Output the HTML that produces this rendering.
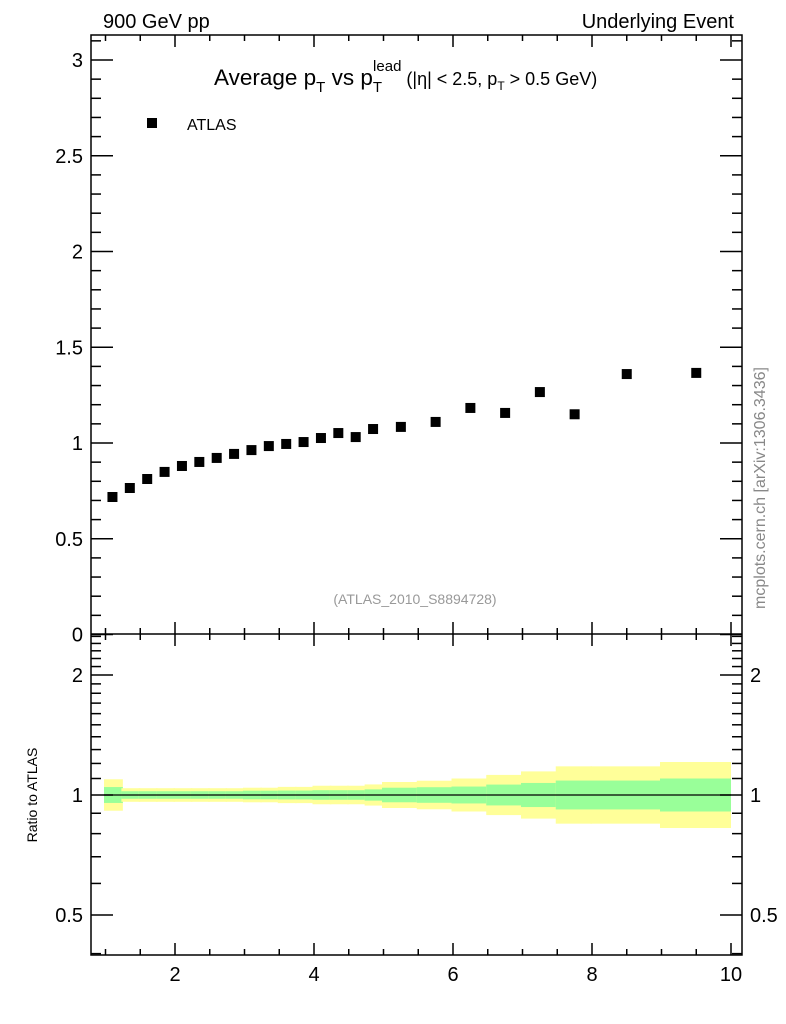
<!DOCTYPE html>
<html><head><meta charset="utf-8"><style>
body{margin:0;background:#fff;}
svg{display:block;font-family:"Liberation Sans",sans-serif;}
</style></head><body>
<svg id="chart" width="786" height="1024" xmlns="http://www.w3.org/2000/svg">
<g id="bands"></g>
<g id="pts"></g>
<g id="axes"></g>
<text x="103" y="28" font-size="20">900 GeV pp</text>
<text x="734" y="28" font-size="20" text-anchor="end">Underlying Event</text>
<text x="214" y="85" font-size="22.5">Average p<tspan font-size="15" dy="7">T</tspan><tspan dy="-7"> vs p</tspan><tspan font-size="15" dy="7">T</tspan><tspan font-size="15" dx="-9" dy="-21">lead</tspan><tspan font-size="18" dy="14"> (|η| &lt; 2.5, p</tspan><tspan font-size="12" dy="5">T</tspan><tspan font-size="18" dy="-5"> &gt; 0.5 GeV)</tspan></text>
<rect x="147" y="118" width="10" height="10" fill="#000"/>
<text x="187" y="130" font-size="16">ATLAS</text>
<text x="415" y="604" font-size="14" fill="#999" text-anchor="middle">(ATLAS_2010_S8894728)</text>
<text transform="translate(765,488) rotate(-90)" font-size="16" fill="#888" text-anchor="middle">mcplots.cern.ch [arXiv:1306.3436]</text>
<text transform="translate(37,795) rotate(-90)" font-size="14" text-anchor="middle">Ratio to ATLAS</text>
</svg>
<script>
const xVals=[1.1,1.35,1.6,1.85,2.1,2.35,2.6,2.85,3.1,3.35,3.6,3.85,4.1,4.35,4.6,4.85,5.25,5.75,6.25,6.75,7.25,7.75,8.5,9.5];
const yVals=[0.718,0.765,0.812,0.849,0.880,0.901,0.922,0.943,0.963,0.984,0.995,1.005,1.026,1.052,1.031,1.073,1.084,1.110,1.183,1.157,1.266,1.150,1.360,1.366];
const binLo=[1.0,1.25,1.5,1.75,2.0,2.25,2.5,2.75,3.0,3.25,3.5,3.75,4.0,4.25,4.5,4.75,5.0,5.5,6.0,6.5,7.0,7.5,8.0,9.0];
const binHi=[1.25,1.5,1.75,2.0,2.25,2.5,2.75,3.0,3.25,3.5,3.75,4.0,4.25,4.5,4.75,5.0,5.5,6.0,6.5,7.0,7.5,8.0,9.0,10.0];
const yellowErr=[0.095,0.04,0.04,0.04,0.04,0.04,0.04,0.04,0.043,0.043,0.048,0.048,0.055,0.055,0.055,0.063,0.078,0.086,0.10,0.123,0.146,0.18,0.18,0.21];
const greenErr=[0.047,0.022,0.022,0.022,0.022,0.022,0.022,0.022,0.025,0.025,0.026,0.026,0.028,0.028,0.028,0.033,0.043,0.046,0.05,0.062,0.072,0.087,0.087,0.10];
const mainYTicks=[0,0.5,1,1.5,2,2.5,3];
const ratioTicks=[0.5,1,2];
const xTicks=[2,4,6,8,10];

const NS="http://www.w3.org/2000/svg";
const L=91,R=742,T=35,MB=634,RB=955;
const X=v=>175+(v-2)*69.5;
const Y=v=>634.5-v*191.5;
const RY=r=>795-120*Math.log2(r);
function mk(tag,attrs,parent){const e=document.createElementNS(NS,tag);for(const k in attrs)e.setAttribute(k,attrs[k]);parent.appendChild(e);return e;}
const bands=document.getElementById('bands'),pts=document.getElementById('pts'),axes=document.getElementById('axes');

binLo.forEach((lo,i)=>{
  const x0=X(lo)-1.5,x1=X(binHi[i]);
  let e=mk('rect',{x:x0,y:RY(1+yellowErr[i]),width:x1-x0,height:RY(1/(1+yellowErr[i]))-RY(1+yellowErr[i]),fill:'#ffff99'},bands);
  
  
  e=mk('rect',{x:x0,y:RY(1+greenErr[i]),width:x1-x0,height:RY(1/(1+greenErr[i]))-RY(1+greenErr[i]),fill:'#99ff99'},bands);
  
  
});
let ref=mk('line',{x1:X(1.0)-1.5,x2:X(10),y1:RY(1),y2:RY(1),stroke:'#000','stroke-width':1.3},bands);



xVals.forEach((xv,i)=>{
  const p=mk('rect',{x:X(xv)-5,y:Y(yVals[i])-5,width:10,height:10,fill:'#000'},pts);
  
  
});

const st={stroke:'#000','stroke-width':1.5,fill:'none'};
mk('rect',Object.assign({x:L,y:T,width:R-L,height:RB-T},st),axes);
mk('line',Object.assign({x1:L,x2:R,y1:MB,y2:MB},st),axes);
for(let v=1;v<=10.01;v+=0.5){
  const major=Math.abs(v-Math.round(v/2)*2)<1e-6;
  const len=major?12:6,x=X(v);
  mk('line',Object.assign({x1:x,x2:x,y1:T,y2:T+len},st),axes);
  mk('line',Object.assign({x1:x,x2:x,y1:MB-len,y2:MB+len},st),axes);
  mk('line',Object.assign({x1:x,x2:x,y1:RB,y2:RB-len},st),axes);
}
xTicks.forEach(v=>{
  const t=mk('text',{x:X(v),y:981,'font-size':20,'text-anchor':'middle'},axes);
  t.textContent=v;
  
  
});
for(let i=0;i<=31;i++){
  const v=i/10,y=Y(v);if(y<T)continue;
  const len=(i%5===0)?22:10;
  mk('line',Object.assign({x1:L,x2:L+len,y1:y,y2:y},st),axes);
  mk('line',Object.assign({x1:R,x2:R-len,y1:y,y2:y},st),axes);
}
mainYTicks.forEach(v=>{
  const t=mk('text',{x:83,y:Y(v)+7,'font-size':20,'text-anchor':'end'},axes);
  t.textContent=v;
  
  
});
for(let i=4;i<=25;i++){
  const v=i/10,y=RY(v);if(y<MB||y>RB)continue;
  const len=(i===5||i===10||i===20)?22:10;
  mk('line',Object.assign({x1:L,x2:L+len,y1:y,y2:y},st),axes);
  mk('line',Object.assign({x1:R,x2:R-len,y1:y,y2:y},st),axes);
}
ratioTicks.forEach(v=>{
  let t=mk('text',{x:83,y:RY(v)+7,'font-size':20,'text-anchor':'end'},axes);
  t.textContent=v;
  
  
  t=mk('text',{x:750,y:RY(v)+7,'font-size':20},axes);
  t.textContent=v;
  
  
});
</script>
</body></html>
